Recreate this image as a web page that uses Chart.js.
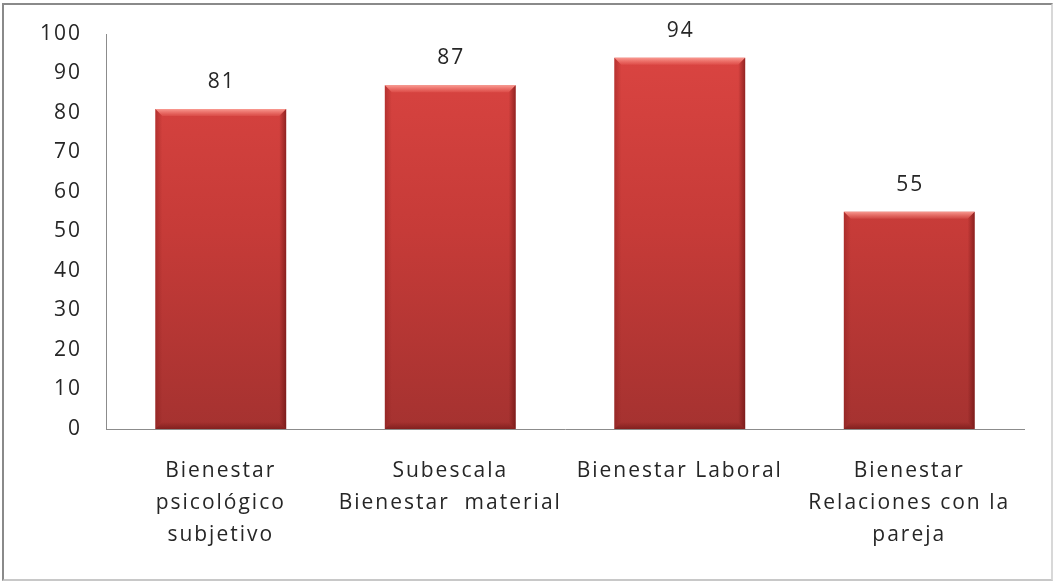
<!DOCTYPE html>
<html>
<head>
<meta charset="utf-8">
<script src="https://cdn.jsdelivr.net/npm/chart.js@4/dist/chart.umd.min.js"></script>
<style>
  html, body { margin: 0; padding: 0; background: #fff; }
  #frame {
    position: absolute; left: 2px; top: 3px; width: 1047px; height: 574px;
    border-top: 2px solid #8a8a8a; border-left: 2px solid #8a8a8a;
    border-right: 2px solid #d8d8d8; border-bottom: 2px solid #c8c8c8;
  }
  #wrap { position: absolute; left: 0; top: 0; width: 1053px; height: 581px; }
</style>
</head>
<body>
<div id="frame"></div>
<div id="wrap"><canvas id="c" width="1053" height="581"></canvas></div>
<script>
const categories = [
  ["Bienestar", "psicológico", "subjetivo"],
  ["Subescala", "Bienestar  material"],
  ["Bienestar Laboral"],
  ["Bienestar", "Relaciones con la", "pareja"]
];
const values = [81, 87, 94, 55];
const yTicks = [0, 10, 20, 30, 40, 50, 60, 70, 80, 90, 100];

const FONT = "'Open Sans', Lato, sans-serif";
const FSIZE = 21;
const SPACING = "2px";
const TEXT = "#262626";

function barFill(ctx) {
  const area = ctx.chart.chartArea;
  if (!area) return "#d0403c";
  const g = ctx.chart.ctx.createLinearGradient(0, area.top, 0, area.bottom);
  g.addColorStop(0, "#dc4542");
  g.addColorStop(0.5, "#c63b38");
  g.addColorStop(1, "#a53230");
  return g;
}

const spacingPlugin = {
  id: "spacing",
  beforeLayout(chart) { chart.ctx.letterSpacing = SPACING; },
  beforeDraw(chart) { chart.ctx.letterSpacing = SPACING; }
};

const bevelPlugin = {
  id: "bevel",
  afterDatasetsDraw(chart) {
    const c = chart.ctx;
    const meta = chart.getDatasetMeta(0);
    meta.data.forEach((bar) => {
      const w = bar.width, l = bar.x - w / 2, r = bar.x + w / 2, t = bar.y, b = bar.base;
      const e = 7;
      c.save();
      let g = c.createLinearGradient(0, t, 0, t + e);
      g.addColorStop(0, "rgba(255,170,160,0.85)");
      g.addColorStop(1, "rgba(255,140,130,0.15)");
      c.fillStyle = g;
      c.beginPath(); c.moveTo(l, t); c.lineTo(r, t); c.lineTo(r - e, t + e); c.lineTo(l + e, t + e); c.closePath(); c.fill();
      g = c.createLinearGradient(l, 0, l + e, 0);
      g.addColorStop(0, "rgba(120,20,20,0.35)");
      g.addColorStop(1, "rgba(120,20,20,0)");
      c.fillStyle = g;
      c.beginPath(); c.moveTo(l, t); c.lineTo(l + e, t + e); c.lineTo(l + e, b - e); c.lineTo(l, b); c.closePath(); c.fill();
      g = c.createLinearGradient(r, 0, r - e, 0);
      g.addColorStop(0, "rgba(90,10,10,0.55)");
      g.addColorStop(1, "rgba(90,10,10,0)");
      c.fillStyle = g;
      c.beginPath(); c.moveTo(r, t); c.lineTo(r - e, t + e); c.lineTo(r - e, b - e); c.lineTo(r, b); c.closePath(); c.fill();
      g = c.createLinearGradient(0, b, 0, b - e);
      g.addColorStop(0, "rgba(90,10,10,0.45)");
      g.addColorStop(1, "rgba(90,10,10,0)");
      c.fillStyle = g;
      c.beginPath(); c.moveTo(l, b); c.lineTo(r, b); c.lineTo(r - e, b - e); c.lineTo(l + e, b - e); c.closePath(); c.fill();
      c.restore();
    });
  }
};

const labelPlugin = {
  id: "valueLabels",
  afterDatasetsDraw(chart) {
    const c = chart.ctx;
    const meta = chart.getDatasetMeta(0);
    c.save();
    c.letterSpacing = SPACING;
    c.font = FSIZE + "px " + FONT;
    c.fillStyle = TEXT;
    c.textAlign = "center";
    c.textBaseline = "middle";
    meta.data.forEach((bar, i) => {
      c.fillText(String(values[i]), bar.x + 1, bar.y - 27);
    });
    c.restore();
  }
};

new Chart(document.getElementById("c"), {
  type: "bar",
  data: {
    labels: categories,
    datasets: [{
      data: values,
      backgroundColor: barFill,
      borderWidth: 0,
      categoryPercentage: 0.57,
      barPercentage: 1.0
    }]
  },
  options: {
    responsive: false,
    animation: false,
    devicePixelRatio: 1,
    layout: { padding: { top: 34, right: 29, bottom: 0, left: 0 } },
    plugins: { legend: { display: false }, tooltip: { enabled: false } },
    scales: {
      x: {
        grid: { display: false, drawTicks: false },
        border: { display: true, color: "#8c8c8c", width: 1 },
        ticks: {
          font: { family: FONT, size: FSIZE, lineHeight: 1.52 },
          color: TEXT,
          padding: 26,
          maxRotation: 0,
          autoSkip: false
        },
        afterFit(scale) { scale.height = 152; scale.paddingLeft = 0; scale.paddingRight = 0; }
      },
      y: {
        min: 0, max: 100,
        afterBuildTicks(scale) { scale.ticks = yTicks.map(v => ({ value: v })); },
        grid: { display: false, drawTicks: false },
        border: { display: true, color: "#8c8c8c", width: 1 },
        ticks: {
          font: { family: FONT, size: FSIZE },
          color: TEXT,
          padding: 24
        },
        afterFit(scale) { scale.width = 106; scale.paddingTop = 0; scale.paddingBottom = 0; }
      }
    }
  },
  plugins: [spacingPlugin, bevelPlugin, labelPlugin]
});
</script>
</body>
</html>
